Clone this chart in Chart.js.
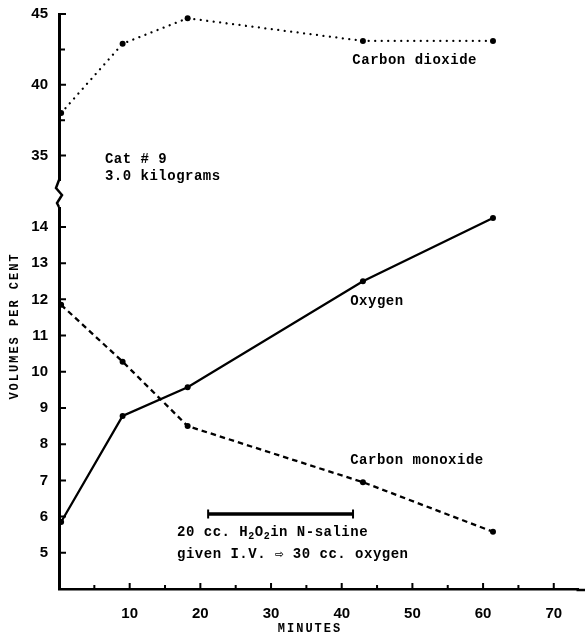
<!DOCTYPE html>
<html>
<head>
<meta charset="utf-8">
<script src="https://cdn.jsdelivr.net/npm/chart.js@4.4.1/dist/chart.umd.min.js"></script>
<style>
  body { margin: 0; background: #fff; }
  canvas { display: block; }
</style>
</head>
<body>
<canvas id="gasChart" width="585" height="635"></canvas>
<script>
// values
const minutes = [0.3, 9, 18.2, 43, 61.4];
const carbonDioxide = [38.0, 42.9, 44.7, 43.1, 43.1];
const oxygen = [5.85, 8.78, 9.57, 12.5, 14.25];
const carbonMonoxide = [11.85, 10.28, 8.5, 6.95, 5.58];
const injectionMinutes = [21.1, 41.6];
const injectionLevel = 6.07;

const xTicks = [10, 20, 30, 40, 50, 60, 70];
const xMinorTicks = [5, 15, 25, 35, 45, 55, 65];
const yLowTicks = [5, 6, 7, 8, 9, 10, 11, 12, 13, 14];
const yHighTicks = [35, 40, 45];
const yHighMinorTicks = [37.5, 42.5];

const MONO = '"Liberation Mono", "DejaVu Sans Mono", monospace';

function pts(xs, ys) {
    return xs.map((x, i) => ({ x: x, y: ys[i] }));
}

// annotations, placed in data coordinates
const notes = [
    { text: 'Carbon dioxide', x: 41.5, y: 41.75, axis: 'yHigh' },
    { text: 'Cat # 9', x: 6.5, y: 34.7, axis: 'yHigh' },
    { text: '3.0 kilograms', x: 6.5, y: 33.5, axis: 'yHigh' },
    { text: 'Oxygen', x: 41.2, y: 11.93, axis: 'yLow' },
    { text: 'Carbon monoxide', x: 41.2, y: 7.56, axis: 'yLow' },
    { text: 'given I.V. \u21E8 30 cc. oxygen', x: 16.7, y: 4.94, axis: 'yLow' }
];

function drawSubText(ctx, parts, x, y) {
    // parts: [text, isSub]
    parts.forEach(p => {
        if (p[1]) {
            ctx.font = 'bold 10px ' + MONO;
            ctx.fillText(p[0], x, y + 4);
        } else {
            ctx.font = 'bold 14px ' + MONO;
            ctx.fillText(p[0], x, y);
        }
        x += ctx.measureText(p[0]).width;
    });
}

const decor = {
    id: 'decor',
    afterDraw(chart) {
        const ctx = chart.ctx;
        const sx = chart.scales.x;
        const lo = chart.scales.yLow;
        const hi = chart.scales.yHigh;
        const ax = sx.left;
        const ay = lo.bottom;
        ctx.save();
        ctx.strokeStyle = '#000';
        ctx.fillStyle = '#000';

        // x axis runs on to the page edge
        ctx.lineWidth = 2.5;
        ctx.beginPath();
        ctx.moveTo(sx.right - 2, ay + 1);
        ctx.lineTo(chart.width, ay + 1);
        ctx.stroke();

        // inward tick marks
        ctx.lineWidth = 2;
        ctx.beginPath();
        yLowTicks.forEach(v => { const p = lo.getPixelForValue(v); ctx.moveTo(ax, p); ctx.lineTo(ax + 7, p); });
        yHighTicks.forEach(v => { const p = hi.getPixelForValue(v); ctx.moveTo(ax, p); ctx.lineTo(ax + 7, p); });
        yHighMinorTicks.forEach(v => { const p = hi.getPixelForValue(v); ctx.moveTo(ax, p); ctx.lineTo(ax + 6, p); });
        xTicks.forEach(v => { const p = sx.getPixelForValue(v); ctx.moveTo(p, ay); ctx.lineTo(p, ay - 6); });
        xMinorTicks.forEach(v => { const p = sx.getPixelForValue(v); ctx.moveTo(p, ay); ctx.lineTo(p, ay - 4); });
        ctx.stroke();

        // axis break
        const by = hi.bottom;
        ctx.fillStyle = '#fff';
        ctx.fillRect(ax - 4, by - 17, 8, 26);
        ctx.fillStyle = '#000';
        ctx.lineWidth = 2.5;
        ctx.beginPath();
        ctx.moveTo(ax, by - 18);
        ctx.lineTo(ax - 3, by - 10);
        ctx.lineTo(ax + 3, by - 3);
        ctx.lineTo(ax - 2, by + 5);
        ctx.lineTo(ax, by + 9);
        ctx.stroke();

        // notes
        ctx.font = 'bold 14px ' + MONO;
        ctx.letterSpacing = '0.5px';
        ctx.textBaseline = 'middle';
        ctx.textAlign = 'left';
        notes.forEach(n => {
            const s = chart.scales[n.axis];
            ctx.fillText(n.text, sx.getPixelForValue(n.x), s.getPixelForValue(n.y));
        });
        drawSubText(ctx, [['20 cc. H', false], ['2', true], ['O', false], ['2', true], ['in N-saline', false]],
            sx.getPixelForValue(16.7), lo.getPixelForValue(5.55));

        // axis titles
        ctx.font = 'bold 12px ' + MONO;
        ctx.letterSpacing = '2px';
        ctx.textAlign = 'center';
        ctx.fillText('MINUTES', 310, 629);
        ctx.translate(15, 326);
        ctx.rotate(-Math.PI / 2);
        ctx.fillText('VOLUMES PER CENT', 0, 0);
        ctx.restore();
    }
};

const tickFont = { family: '"Liberation Sans", Arial, sans-serif', size: 15, weight: 'bold' };

function yScale(list, min, max, weight) {
    return {
        type: 'linear',
        position: 'left',
        stack: 'volumes',
        stackWeight: weight,
        min: min,
        max: max,
        grid: { display: false },
        border: { display: true, color: '#000', width: 3 },
        ticks: { color: '#000', font: tickFont, padding: 3 },
        afterBuildTicks: function (scale) { scale.ticks = list.map(v => ({ value: v })); },
        afterFit: function (scale) { scale.width = 59; }
    };
}

let ctx = document.getElementById('gasChart').getContext('2d');
let gasChart = new Chart(ctx, {
    type: 'line',
    data: {
        datasets: [{
            label: 'Carbon dioxide',
            data: pts(minutes, carbonDioxide),
            yAxisID: 'yHigh',
            borderColor: '#000',
            borderWidth: 2.3,
            borderDash: [0.01, 6.5],
            borderCapStyle: 'round',
            pointRadius: 3,
            pointBackgroundColor: '#000',
            pointBorderWidth: 0
        }, {
            label: 'Oxygen',
            data: pts(minutes, oxygen),
            yAxisID: 'yLow',
            borderColor: '#000',
            borderWidth: 2.3,
            pointRadius: 3,
            pointBackgroundColor: '#000',
            pointBorderWidth: 0
        }, {
            label: 'Carbon monoxide',
            data: pts(minutes, carbonMonoxide),
            yAxisID: 'yLow',
            borderColor: '#000',
            borderWidth: 2.3,
            borderDash: [5.5, 4],
            pointRadius: 3,
            pointBackgroundColor: '#000',
            pointBorderWidth: 0
        }, {
            label: 'Injection',
            data: injectionMinutes.map(m => ({ x: m, y: injectionLevel })),
            yAxisID: 'yLow',
            borderColor: '#000',
            borderWidth: 3.5,
            pointStyle: 'line',
            rotation: 90,
            pointRadius: 4.5,
            pointBorderWidth: 2,
            pointBorderColor: '#000'
        }]
    },
    options: {
        responsive: false,
        animation: false,
        layout: { padding: { top: 14, right: 0, left: 0, bottom: 0 } },
        plugins: { legend: { display: false }, tooltip: { enabled: false } },
        elements: { line: { tension: 0, fill: false } },
        scales: {
            x: {
                type: 'linear',
                min: 0,
                max: 73.5,
                grid: { display: false },
                border: { display: true, color: '#000', width: 2.5 },
                ticks: { color: '#000', font: tickFont, padding: 8, maxRotation: 0 },
                afterBuildTicks: function (scale) { scale.ticks = xTicks.map(v => ({ value: v })); },
                afterFit: function (scale) { scale.height = 46; }
            },
            yLow: yScale(yLowTicks, 4, 14.8, 391),
            yHigh: yScale(yHighTicks, 32, 45, 184)
        }
    },
    plugins: [decor]
});
</script>
</body>
</html>
